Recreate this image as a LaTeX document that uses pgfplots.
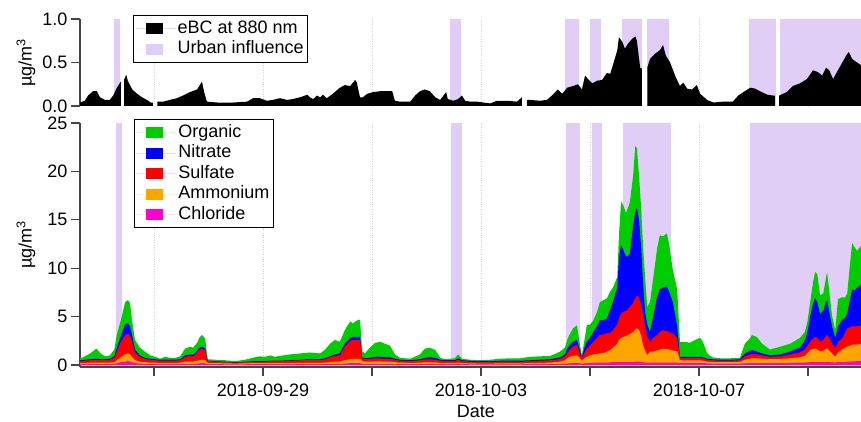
\documentclass[border=0pt]{standalone}
\usepackage{fontspec}
\setmainfont{Liberation Sans}
\usepackage{pgfplots}
\pgfplotsset{compat=1.18}
\usepackage{pgfplotstable}

\definecolor{lav}{RGB}{224,206,247}
\definecolor{cOrg}{RGB}{0,204,0}
\definecolor{cNit}{RGB}{0,0,255}
\definecolor{cSul}{RGB}{255,0,0}
\definecolor{cAmm}{RGB}{255,165,0}
\definecolor{cChl}{RGB}{255,0,204}
\definecolor{axgray}{RGB}{70,70,70}
\definecolor{gridgray}{RGB}{212,212,212}

% days since 2018-09-29 00:00; components in ug/m3
\pgfplotstableread{
t chl amm sul nit org
-3.36 0.10 0.10 0.20 0.10 0.15
-3.27 0.10 0.10 0.25 0.10 0.35
-3.17 0.10 0.15 0.25 0.10 0.60
-3.06 0.10 0.15 0.30 0.10 1.05
-2.99 0.10 0.15 0.25 0.10 0.65
-2.90 0.10 0.15 0.25 0.10 0.30
-2.81 0.10 0.15 0.30 0.10 0.35
-2.73 0.12 0.18 0.45 0.15 0.70
-2.68 0.20 0.30 0.90 0.40 1.40
-2.61 0.30 0.50 1.60 0.60 1.60
-2.53 0.35 0.75 2.00 1.10 2.30
-2.48 0.40 0.80 2.00 1.10 2.40
-2.44 0.35 0.75 1.90 1.00 2.40
-2.40 0.30 0.50 1.60 0.60 1.50
-2.35 0.20 0.30 0.80 0.30 1.00
-2.26 0.15 0.20 0.50 0.15 0.80
-2.17 0.12 0.18 0.35 0.10 0.65
-2.07 0.10 0.15 0.30 0.10 0.35
-1.98 0.10 0.15 0.25 0.10 0.25
-1.89 0.10 0.10 0.25 0.10 0.10
-1.80 0.10 0.10 0.25 0.10 0.30
-1.71 0.10 0.10 0.25 0.10 0.20
-1.61 0.10 0.10 0.25 0.10 0.20
-1.52 0.10 0.15 0.25 0.10 0.30
-1.43 0.12 0.23 0.50 0.15 0.70
-1.34 0.12 0.23 0.60 0.15 0.80
-1.28 0.12 0.23 0.55 0.15 0.75
-1.21 0.15 0.30 0.85 0.20 0.80
-1.16 0.18 0.32 1.10 0.20 1.10
-1.12 0.20 0.35 1.15 0.20 1.20
-1.06 0.18 0.32 1.00 0.20 1.00
-1.03 0.12 0.18 0.30 0.10 0.50
-1.01 0.10 0.10 0.20 0.05 0.15
-0.88 0.10 0.10 0.15 0.05 0.15
-0.70 0.08 0.10 0.12 0.05 0.15
-0.51 0.08 0.07 0.10 0.05 0.10
-0.33 0.08 0.10 0.12 0.05 0.20
-0.15 0.10 0.10 0.15 0.05 0.40
-0.06 0.10 0.10 0.15 0.05 0.50
0.04 0.10 0.10 0.15 0.05 0.45
0.13 0.10 0.10 0.20 0.05 0.55
0.22 0.10 0.10 0.20 0.05 0.40
0.31 0.10 0.10 0.20 0.05 0.50
0.50 0.10 0.10 0.25 0.05 0.60
0.68 0.10 0.12 0.28 0.05 0.65
0.86 0.10 0.12 0.28 0.10 0.70
1.05 0.10 0.12 0.28 0.10 0.60
1.14 0.10 0.15 0.35 0.10 0.90
1.23 0.12 0.18 0.50 0.10 1.30
1.32 0.12 0.23 0.60 0.15 1.50
1.41 0.12 0.23 0.65 0.20 1.20
1.50 0.15 0.35 1.40 0.30 1.40
1.60 0.20 0.40 1.90 0.30 1.70
1.65 0.20 0.45 1.95 0.30 1.40
1.72 0.20 0.45 1.95 0.30 1.70
1.78 0.20 0.45 1.95 0.30 1.80
1.82 0.12 0.28 0.30 0.10 0.60
1.87 0.12 0.23 0.25 0.10 0.50
1.96 0.12 0.23 0.30 0.10 1.05
2.06 0.12 0.26 0.32 0.15 1.45
2.15 0.12 0.26 0.32 0.15 1.55
2.24 0.12 0.23 0.30 0.15 1.40
2.33 0.12 0.23 0.30 0.15 1.20
2.42 0.10 0.20 0.25 0.10 0.45
2.51 0.10 0.15 0.20 0.10 0.20
2.70 0.10 0.12 0.18 0.10 0.15
2.88 0.10 0.15 0.25 0.10 0.50
2.97 0.10 0.18 0.32 0.15 0.95
3.06 0.10 0.18 0.32 0.20 1.00
3.16 0.10 0.18 0.27 0.20 0.80
3.25 0.10 0.12 0.23 0.10 0.20
3.34 0.10 0.10 0.20 0.10 0.10
3.43 0.10 0.10 0.20 0.10 0.15
3.52 0.10 0.10 0.20 0.10 0.20
3.58 0.10 0.15 0.30 0.15 0.40
3.65 0.10 0.10 0.20 0.10 0.15
3.80 0.08 0.10 0.17 0.10 0.10
3.98 0.08 0.07 0.17 0.08 0.10
4.17 0.08 0.07 0.17 0.08 0.15
4.35 0.08 0.10 0.17 0.10 0.20
4.53 0.08 0.10 0.17 0.10 0.25
4.72 0.08 0.10 0.17 0.10 0.25
4.90 0.10 0.10 0.20 0.10 0.35
5.08 0.10 0.12 0.23 0.10 0.35
5.27 0.10 0.15 0.25 0.10 0.35
5.36 0.10 0.20 0.25 0.15 0.45
5.45 0.12 0.23 0.30 0.15 0.60
5.54 0.15 0.35 0.40 0.20 0.70
5.58 0.15 0.55 0.50 0.50 0.90
5.63 0.18 0.67 0.75 0.50 1.10
5.69 0.20 0.75 0.95 0.50 1.40
5.76 0.20 0.80 1.10 0.50 1.50
5.80 0.18 0.62 0.60 0.40 0.80
5.85 0.15 0.30 0.25 0.15 0.15
5.91 0.18 0.57 0.65 0.60 1.00
5.94 0.20 0.65 0.85 0.70 1.70
6.00 0.20 0.80 1.00 0.80 1.40
6.06 0.22 0.88 1.30 1.00 1.20
6.13 0.25 0.90 1.65 1.20 1.50
6.18 0.25 0.95 1.90 1.50 1.90
6.28 0.25 1.05 1.90 1.50 2.10
6.31 0.25 1.15 1.90 1.50 2.10
6.37 0.28 1.27 1.75 2.40 1.90
6.42 0.30 1.50 1.80 2.90 1.50
6.50 0.30 1.90 2.00 3.80 1.10
6.53 0.30 2.30 2.20 6.20 2.30
6.57 0.30 2.50 2.50 7.10 4.50
6.61 0.30 2.60 2.60 6.40 4.60
6.66 0.30 2.70 2.60 5.60 4.50
6.70 0.30 2.80 2.70 5.50 5.00
6.73 0.30 2.90 2.80 5.50 5.30
6.79 0.30 3.10 3.00 7.90 5.20
6.83 0.35 3.35 3.20 8.90 6.80
6.86 0.35 3.45 3.40 9.00 6.20
6.90 0.35 3.25 3.30 8.10 4.50
6.94 0.30 2.70 3.20 5.80 4.00
6.97 0.30 1.80 3.10 3.60 3.80
7.01 0.25 1.25 2.50 1.50 3.60
7.05 0.25 0.75 1.90 1.30 1.80
7.10 0.25 1.15 1.00 1.00 3.10
7.16 0.25 1.15 1.40 2.20 4.00
7.23 0.25 1.25 1.60 3.90 5.00
7.28 0.25 1.35 1.80 4.40 5.60
7.34 0.25 1.45 1.90 4.40 5.30
7.41 0.25 1.40 1.85 4.60 5.50
7.45 0.25 1.35 1.80 4.20 4.90
7.52 0.25 1.25 1.70 3.30 3.30
7.60 0.25 1.15 1.40 1.20 3.80
7.65 0.20 0.30 0.20 0.15 1.55
7.74 0.20 0.28 0.24 0.13 1.55
7.83 0.20 0.28 0.24 0.13 1.45
7.93 0.20 0.28 0.24 0.13 1.75
8.02 0.20 0.28 0.24 0.13 1.95
8.07 0.20 0.25 0.25 0.10 1.60
8.15 0.18 0.17 0.20 0.10 0.55
8.24 0.15 0.17 0.18 0.10 0.20
8.39 0.15 0.15 0.15 0.10 0.15
8.57 0.15 0.15 0.15 0.10 0.15
8.75 0.15 0.17 0.18 0.10 0.15
8.84 0.18 0.37 0.35 0.30 1.00
8.94 0.20 0.45 0.45 0.40 1.30
8.97 0.20 0.50 0.45 0.40 1.55
9.06 0.20 0.50 0.40 0.30 1.50
9.16 0.20 0.45 0.35 0.20 1.00
9.30 0.20 0.40 0.25 0.15 0.60
9.49 0.20 0.42 0.28 0.20 0.80
9.67 0.22 0.48 0.40 0.30 0.80
9.85 0.25 0.55 0.50 0.50 1.00
9.94 0.25 0.70 0.65 0.90 0.90
9.99 0.28 0.92 0.80 1.40 1.10
10.04 0.30 1.25 0.85 2.60 1.50
10.09 0.30 1.35 1.05 3.60 2.20
10.13 0.30 1.40 1.20 4.00 2.70
10.17 0.30 1.30 1.20 3.70 2.90
10.22 0.30 1.10 1.00 2.90 1.90
10.28 0.30 1.20 1.10 3.00 1.80
10.33 0.30 1.40 1.30 3.50 2.50
10.35 0.30 1.40 1.40 3.60 2.90
10.39 0.30 1.20 1.30 2.70 2.10
10.44 0.28 0.92 1.00 1.80 1.10
10.50 0.25 0.60 0.85 1.10 0.80
10.55 0.30 1.00 1.10 1.60 2.80
10.62 0.30 1.30 1.10 1.90 2.40
10.68 0.32 1.48 1.50 1.60 2.10
10.72 0.35 1.55 1.90 1.50 2.10
10.77 0.35 1.65 1.90 2.90 3.70
10.81 0.38 1.72 1.90 3.80 4.80
10.85 0.38 1.72 1.90 3.70 4.50
10.90 0.40 1.70 1.90 4.00 3.80
10.97 0.40 1.80 1.90 4.20 4.00
11.05 0.40 1.80 1.90 4.20 4.00
}\aerosol

\newcommand{\fnt}{\fontsize{18bp}{20bp}\selectfont}

\pgfplotsset{
  myaxis/.style={
    scale only axis, width=781bp,
    xmin=-3.358, xmax=10.972,
    set layers,
    axis line style={color=axgray, line width=1.5bp, on layer=axis foreground},
    tick style={color=axgray, line width=1.3bp},
    major tick length=9bp, tick align=outside,
    xtick={-2,0,...,10},
    xmajorgrids=true,
    grid style={dotted, color=gridgray, line width=0.8bp},
    /pgf/number format/assume math mode=true,
    tick label style={font=\fnt, color=black},
    label style={font=\fnt},
    every axis y label/.style={at={(axis description cs:-0.0525,0.5)}, anchor=south, rotate=90, font=\fnt},
    legend cell align=left,
    legend image code/.code={\path (0bp,0bp) -- (40bp,0bp); \fill[##1] (10bp,-5.5bp) rectangle (27bp,5.5bp);},
    legend style={draw=black, line width=1bp, fill=white, font=\fnt,
      inner xsep=2bp, inner ysep=3bp, row sep=0bp,
      nodes={inner xsep=2bp, inner ysep=2bp, text height=12.9bp, text depth=3.6bp}},
  },
}

\begin{document}
\begin{tikzpicture}
\path (0,0) rectangle (861bp,422bp);

% ---------------- top panel: eBC ----------------
\begin{axis}[myaxis,
  at={(80bp,316bp)}, anchor=south west, height=87bp,
  ymin=0, ymax=1,
  axis y line*=left, axis x line*=bottom,
  x axis line style={draw=none},
  xtick style={draw=none}, xticklabels={},
  ytick={0,0.5,1},
  yticklabel style={/pgf/number format/.cd, fixed, fixed zerofill, precision=1},
  ylabel={µg/m\textsuperscript{3}},
  legend style={at={(0.0679,1.046)}, anchor=north west},
]
% urban influence
\addplot[fill=lav, draw=none, forget plot] coordinates {(-2.74,1)(-2.63,1)} \closedcycle;
\addplot[fill=lav, draw=none, forget plot] coordinates {(3.43,1)(3.63,1)} \closedcycle;
\addplot[fill=lav, draw=none, forget plot] coordinates {(5.54,1)(5.80,1)} \closedcycle;
\addplot[fill=lav, draw=none, forget plot] coordinates {(6.00,1)(6.20,1)} \closedcycle;
\addplot[fill=lav, draw=none, forget plot] coordinates {(6.59,1)(6.95,1)} \closedcycle;
\addplot[fill=lav, draw=none, forget plot] coordinates {(7.05,1)(7.45,1)} \closedcycle;
\addplot[fill=lav, draw=none, forget plot] coordinates {(8.92,1)(9.41,1)} \closedcycle;
\addplot[fill=lav, draw=none, forget plot] coordinates {(9.49,1)(11.1,1)} \closedcycle;
% eBC segments
\addplot[fill=black, draw=none, forget plot] coordinates {
(-3.36,0.04)(-3.27,0.06)(-3.21,0.12)(-3.12,0.17)(-3.05,0.17)(-2.99,0.10)(-2.90,0.07)
(-2.81,0.07)(-2.75,0.12)(-2.68,0.21)(-2.62,0.27)(-2.61,0.28)} \closedcycle;
\addplot[fill=black, draw=none, forget plot] coordinates {
(-2.55,0.30)(-2.51,0.36)(-2.48,0.29)(-2.40,0.19)(-2.31,0.14)(-2.22,0.10)(-2.13,0.07)
(-2.06,0.04)(-2.02,0.04)} \closedcycle;
\addplot[fill=black, draw=none, forget plot] coordinates {
(-1.94,0.05)(-1.83,0.05)(-1.71,0.07)(-1.58,0.09)(-1.47,0.12)(-1.34,0.16)(-1.21,0.19)
(-1.12,0.28)(-1.08,0.16)(-1.03,0.05)(-0.84,0.04)(-0.55,0.04)(-0.29,0.05)(-0.18,0.09)
(-0.06,0.09)(0.07,0.06)(0.18,0.07)(0.31,0.09)(0.44,0.07)(0.55,0.08)(0.68,0.10)
(0.77,0.12)(0.81,0.13)(0.86,0.10)(0.92,0.08)(0.99,0.12)(1.05,0.10)(1.10,0.13)
(1.17,0.09)(1.28,0.14)(1.41,0.21)(1.50,0.24)(1.60,0.23)(1.69,0.30)(1.72,0.27)
(1.78,0.10)(1.83,0.10)(1.91,0.14)(2.02,0.16)(2.15,0.17)(2.28,0.17)(2.37,0.17)
(2.42,0.06)(2.51,0.05)(2.70,0.05)(2.79,0.12)(2.88,0.17)(2.97,0.19)(3.06,0.17)
(3.16,0.10)(3.25,0.07)(3.36,0.16)(3.39,0.08)(3.49,0.06)(3.58,0.08)(3.65,0.12)
(3.71,0.06)(3.80,0.05)(3.93,0.05)(4.04,0.04)(4.17,0.03)(4.29,0.06)(4.48,0.06)
(4.66,0.05)(4.75,0.10)} \closedcycle;
\addplot[fill=black, draw=none, forget plot] coordinates {
(4.84,0.07)(4.90,0.07)(5.08,0.06)(5.21,0.07)(5.30,0.12)(5.41,0.19)(5.49,0.14)
(5.58,0.21)(5.69,0.23)(5.78,0.25)(5.85,0.19)(5.91,0.35)(5.96,0.31)(6.04,0.26)
(6.13,0.29)(6.22,0.30)(6.31,0.38)(6.37,0.37)(6.42,0.47)(6.50,0.64)(6.53,0.79)
(6.59,0.74)(6.64,0.66)(6.70,0.72)(6.77,0.77)(6.83,0.80)(6.86,0.75)(6.92,0.44)
(6.95,0.43)} \closedcycle;
\addplot[fill=black, draw=none, forget plot] coordinates {
(7.05,0.44)(7.10,0.54)(7.19,0.60)(7.28,0.64)(7.34,0.70)(7.39,0.58)(7.47,0.50)
(7.56,0.35)(7.65,0.23)(7.71,0.27)(7.78,0.20)(7.87,0.19)(7.96,0.24)(8.02,0.14)
(8.15,0.07)(8.26,0.04)(8.44,0.05)(8.62,0.05)(8.72,0.12)(8.84,0.17)(8.94,0.21)
(9.03,0.20)(9.12,0.17)(9.25,0.13)(9.36,0.12)(9.39,0.12)} \closedcycle;
\addplot[fill=black, draw=none, forget plot] coordinates {
(9.47,0.12)(9.61,0.16)(9.72,0.23)(9.85,0.26)(9.98,0.31)(10.09,0.41)(10.18,0.39)
(10.26,0.35)(10.33,0.44)(10.39,0.41)(10.46,0.31)(10.53,0.39)(10.62,0.49)(10.72,0.60)
(10.75,0.62)(10.81,0.54)(10.90,0.50)(10.97,0.47)(11.05,0.47)} \closedcycle;
\addlegendimage{fill=black, draw=none}
\addlegendentry{eBC at 880 nm}
\addlegendimage{fill=lav, draw=none}
\addlegendentry{Urban influence}
\end{axis}

% ---------------- bottom panel: composition ----------------
\begin{axis}[myaxis,
  at={(80bp,55bp)}, anchor=south west, height=244bp,
  ymin=-0.2, ymax=25,
  axis y line*=left, axis x line*=bottom,
  ytick={0,5,...,25},
  xticklabels={,2018-09-29,,2018-10-03,,2018-10-07,},
  xticklabel style={yshift=-4bp},
  xlabel={Date},
  xlabel style={at={(axis description cs:0.507,0)}, anchor=north, yshift=-35bp},
  ylabel={µg/m\textsuperscript{3}},
  legend style={at={(0.0691,1.0164)}, anchor=north west},
]
\addplot[fill=lav, draw=none, forget plot] coordinates {(-2.70,25)(-2.59,25)} \closedcycle;
\addplot[fill=lav, draw=none, forget plot] coordinates {(3.45,25)(3.65,25)} \closedcycle;
\addplot[fill=lav, draw=none, forget plot] coordinates {(5.56,25)(5.82,25)} \closedcycle;
\addplot[fill=lav, draw=none, forget plot] coordinates {(6.04,25)(6.22,25)} \closedcycle;
\addplot[fill=lav, draw=none, forget plot] coordinates {(6.61,25)(7.49,25)} \closedcycle;
\addplot[fill=lav, draw=none, forget plot] coordinates {(8.94,25)(11.1,25)} \closedcycle;

\addplot[fill=cOrg, draw=none] table[x=t, y expr=\thisrow{chl}+\thisrow{amm}+\thisrow{sul}+\thisrow{nit}+\thisrow{org}] {\aerosol} \closedcycle;
\addlegendentry{Organic}
\addplot[fill=cNit, draw=none] table[x=t, y expr=\thisrow{chl}+\thisrow{amm}+\thisrow{sul}+\thisrow{nit}] {\aerosol} \closedcycle;
\addlegendentry{Nitrate}
\addplot[fill=cSul, draw=none] table[x=t, y expr=\thisrow{chl}+\thisrow{amm}+\thisrow{sul}] {\aerosol} \closedcycle;
\addlegendentry{Sulfate}
\addplot[fill=cAmm, draw=none] table[x=t, y expr=\thisrow{chl}+\thisrow{amm}] {\aerosol} \closedcycle;
\addlegendentry{Ammonium}
\addplot[fill=cChl, draw=none] table[x=t, y=chl] {\aerosol} \closedcycle;
\addlegendentry{Chloride}
\end{axis}
\pgfresetboundingbox
\useasboundingbox (0,0) rectangle (861bp,422bp);
\end{tikzpicture}
\end{document}
